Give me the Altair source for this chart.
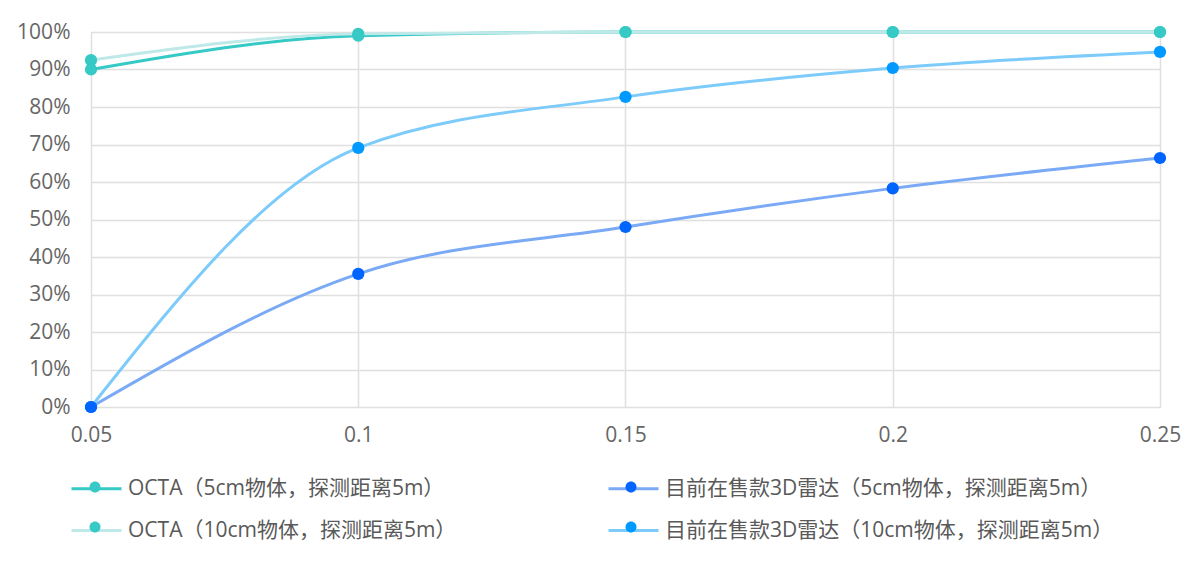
import altair as alt
import pandas as pd

x_vals = [0.05, 0.1, 0.15, 0.2, 0.25]
series_names = [
    "OCTA（5cm物体，探测距离5m）",
    "目前在售款3D雷达（5cm物体，探测距离5m）",
    "OCTA（10cm物体，探测距离5m）",
    "目前在售款3D雷达（10cm物体，探测距离5m）",
]
octa_5cm = [0.90, 0.99, 1.00, 1.00, 1.00]
cur_5cm = [0.0, 0.355, 0.48, 0.583, 0.664]
octa_10cm = [0.925, 0.995, 1.00, 1.00, 1.00]
cur_10cm = [0.0, 0.691, 0.827, 0.904, 0.947]
line_colors = ["#36C9C6", "#7AAAF5", "#BFE9E8", "#7DCBFA"]
point_colors = ["#36C9C6", "#0064FF", "#36C9C6", "#0099FF"]

rows = []
for name, vals in zip(series_names, [octa_5cm, cur_5cm, octa_10cm, cur_10cm]):
    for xv, yv in zip(x_vals, vals):
        rows.append({"x": xv, "y": yv, "series": name, "series_p": name})
df = pd.DataFrame(rows)
# draw order: light lines first
draw_order = {series_names[2]: 0, series_names[3]: 1, series_names[1]: 2, series_names[0]: 3}
df["order"] = df["series"].map(draw_order)

FONT = "'Open Sans', 'Noto Sans CJK SC', sans-serif"

xenc = alt.X("x:Q", scale=alt.Scale(domain=[0.05, 0.25], nice=False),
             axis=alt.Axis(values=x_vals, format="~g", title=None, grid=True,
                           ticks=False, domain=False, labelPadding=17,
                           labelFontSize=21, labelColor="#666666", labelFont=FONT,
                           gridColor="#E0E0E0", gridWidth=1.5, labelFlush=False))
yenc = alt.Y("y:Q", scale=alt.Scale(domain=[0, 1], nice=False),
             axis=alt.Axis(values=[i / 10 for i in range(11)], format=".0%", title=None,
                           ticks=False, domain=False, labelPadding=21,
                           labelFontSize=21, labelColor="#666666", labelFont=FONT,
                           gridColor="#E0E0E0", gridWidth=1.5))

legend_common = dict(orient="none", legendX=-21, legendY=430, columns=2, direction="horizontal",
                     labelFont=FONT, labelFontSize=21, symbolSize=2500, labelOffset=5,
                     rowPadding=5, title=None, labelLimit=700)

lines = alt.Chart(df).mark_line(interpolate="monotone", strokeWidth=3).encode(
    x=xenc, y=yenc,
    stroke=alt.Stroke("series:N", scale=alt.Scale(domain=series_names, range=line_colors),
                      legend=alt.Legend(symbolType="stroke", symbolStrokeWidth=3,
                                        columnPadding=145,
                                        labelColor="#595959", zindex=0, **legend_common)),
    order="order:Q",
    detail="series:N",
)

circle_path = "M -0.22 0 A 0.22 0.22 0 1 0 0.22 0 A 0.22 0.22 0 1 0 -0.22 0 Z"
points = alt.Chart(df).mark_point(filled=True, size=150, opacity=1, shape="circle").encode(
    x=xenc, y=yenc,
    fill=alt.Fill("series_p:N", scale=alt.Scale(domain=series_names, range=point_colors),
                  legend=alt.Legend(symbolType=circle_path, symbolStrokeWidth=0,
                                    symbolOpacity=1, labelExpr="''", columnPadding=481,
                                    zindex=1, **legend_common)),
    order="order:Q",
)

chart = alt.layer(lines, points).resolve_scale(fill="independent", stroke="independent").properties(
    width=1069, height=375,
    autosize=alt.AutoSizeParams(type="none"),
    padding={"left": 83, "top": 24, "right": 30, "bottom": 160},
).configure_view(stroke=None).configure(font=FONT, background="white")

chart.save("out.html", embed_options={"renderer": "svg", "actions": False})
